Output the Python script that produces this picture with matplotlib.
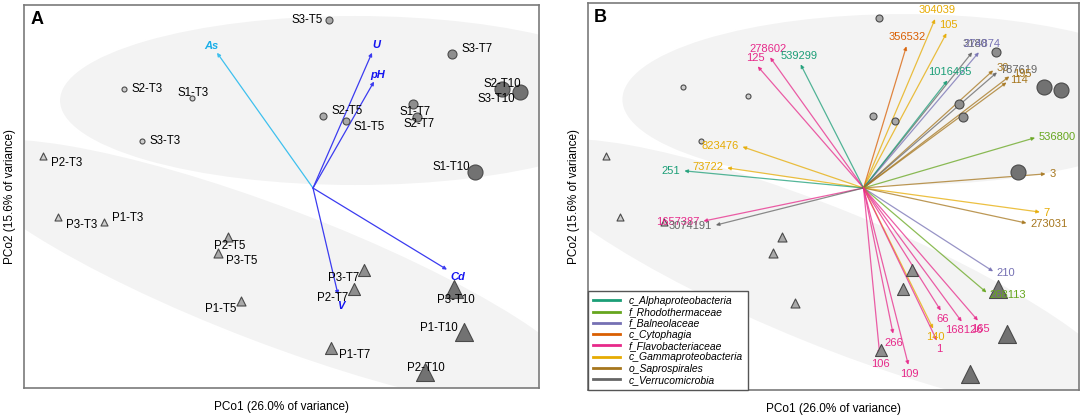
import matplotlib
matplotlib.use('Agg')
import matplotlib.pyplot as plt
from matplotlib.patches import Ellipse
from matplotlib.lines import Line2D
import numpy as np

plt.rcParams['font.family'] = ['Liberation Sans', 'DejaVu Sans']

# ---------------- data ----------------
sample_names = ['S2-T3', 'S1-T3', 'S3-T3', 'S3-T5', 'S2-T5', 'S1-T5', 'S3-T7', 'S1-T7',
                'S2-T7', 'S2-T10', 'S3-T10', 'S1-T10', 'P2-T3', 'P3-T3', 'P1-T3', 'P2-T5',
                'P3-T5', 'P1-T5', 'P3-T7', 'P2-T7', 'P1-T7', 'P3-T10', 'P1-T10', 'P2-T10']
pco1 = [-1.89, -1.21, -1.71, 0.16, 0.10, 0.33, 1.39, 1.00, 1.04, 1.89, 2.07, 1.62,
        -2.70, -2.55, -2.09, -0.85, -0.95, -0.72, 0.51, 0.41, 0.18, 1.41, 1.51, 1.12]
pco2 = [1.00, 0.91, 0.47, 1.69, 0.72, 0.67, 1.35, 0.84, 0.71, 1.00, 0.97, 0.16,
        0.32, -0.29, -0.34, -0.49, -0.65, -1.14, -0.82, -1.01, -1.61, -1.01, -1.45, -1.85]

env_names = ['As', 'U', 'pH', 'V', 'Cd']
env_x = [-0.96, 0.59, 0.61, 0.25, 1.34]
env_y = [1.36, 1.36, 1.07, -1.07, -0.82]

groups = ['c_Alphaproteobacteria', 'f_Rhodothermaceae', 'f_Balneolaceae', 'c_Cytophagia',
          'f_Flavobacteriaceae', 'c_Gammaproteobacteria', 'o_Saprospirales', 'c_Verrucomicrobia']

otu_names = ['278602', '125', '539299', '823476', '73722', '251', '1657387', '3074191',
             '304039', '105', '356532', '3180', '274874', '1016465', '30', '787619', '195',
             '114', '536800', '3', '7', '273031', '210', '268113', '66', '168126', '165',
             '140', '1', '266', '106', '109']
otu_x = [-0.98, -1.11, -0.66, -1.27, -1.43, -1.88, -1.68, -1.55,
         0.75, 0.87, 0.45, 1.14, 1.21, 0.88, 1.36, 1.40, 1.53,
         1.50, 1.80, 1.91, 1.85, 1.71, 1.36, 1.29, 0.81, 1.03, 1.20,
         0.73, 0.77, 0.31, 0.17, 0.47]
otu_y = [1.30, 1.21, 1.23, 0.41, 0.20, 0.17, -0.33, -0.37,
         1.68, 1.54, 1.41, 1.35, 1.35, 1.07, 1.17, 1.15, 1.11,
         1.05, 0.50, 0.14, -0.24, -0.35, -0.83, -1.04, -1.22, -1.33, -1.32,
         -1.40, -1.52, -1.45, -1.66, -1.76]
otu_group = ['f_Flavobacteriaceae', 'f_Flavobacteriaceae', 'c_Alphaproteobacteria',
             'c_Gammaproteobacteria', 'c_Gammaproteobacteria', 'c_Alphaproteobacteria',
             'f_Flavobacteriaceae', 'c_Verrucomicrobia',
             'c_Gammaproteobacteria', 'c_Gammaproteobacteria', 'c_Cytophagia',
             'c_Verrucomicrobia', 'f_Balneolaceae', 'c_Alphaproteobacteria',
             'o_Saprospirales', 'c_Verrucomicrobia', 'o_Saprospirales',
             'o_Saprospirales', 'f_Rhodothermaceae', 'o_Saprospirales',
             'c_Gammaproteobacteria', 'o_Saprospirales', 'f_Balneolaceae',
             'f_Rhodothermaceae', 'f_Flavobacteriaceae', 'f_Flavobacteriaceae',
             'f_Flavobacteriaceae', 'c_Gammaproteobacteria', 'f_Flavobacteriaceae',
             'f_Flavobacteriaceae', 'f_Flavobacteriaceae', 'f_Flavobacteriaceae']

x_label = 'PCo1 (26.0% of variance)'
y_label = 'PCo2 (15.6% of variance)'

# ---------------- styles ----------------
group_colors = dict(zip(groups, ['#1b9e77', '#66a61e', '#7570b3', '#d95f02',
                                 '#e7298a', '#e6ab02', '#a6761d', '#666666']))
time_fill = {'T3': '#cdcdcd', 'T5': '#a9a9a9', 'T7': '#8e8e8e', 'T10': '#727272'}
circle_px = {'T3': 5, 'T5': 7, 'T7': 9, 'T10': 15}
tri_px = {'T3': 7, 'T5': 9, 'T7': 12, 'T10': 18}

# label offsets (pixels) and alignment for sample labels in panel A
label_style = {
    'S2-T3': (8, 0, 'left'), 'S1-T3': (-14, 5, 'left'), 'S3-T3': (8, 0, 'left'),
    'P2-T3': (8, -7, 'left'), 'S3-T5': (-6, 0, 'right'), 'S2-T5': (9, 5, 'left'),
    'S1-T5': (8, -6, 'left'), 'S3-T7': (9, 5, 'left'), 'S1-T7': (-13, -8, 'left'),
    'S2-T7': (-14, -7, 'left'), 'S2-T10': (-18, 5, 'left'), 'S3-T10': (-42, -7, 'left'),
    'S1-T10': (-5, 5, 'right'), 'P3-T3': (8, -8, 'left'), 'P1-T3': (8, 4, 'left'),
    'P2-T5': (-14, -9, 'left'), 'P3-T5': (8, -8, 'left'), 'P1-T5': (-5, -8, 'right'),
    'P3-T7': (-5, -8, 'right'), 'P2-T7': (-6, -9, 'right'), 'P1-T7': (8, -7, 'left'),
    'P3-T10': (-17, -11, 'left'), 'P1-T10': (-6, 4, 'right'), 'P2-T10': (-18, 4, 'left'),
}
env_style = {'As': ('#3ec0ee', (-6, 7)), 'U': ('#3b3bf0', (4, 8)), 'pH': ('#3b3bf0', (4, 7)),
             'V': ('#3b3bf0', (3, -12)), 'Cd': ('#3b3bf0', (11, -7))}
env_text = {'As': '#1aaee8', 'U': '#1414f0', 'pH': '#1414f0', 'V': '#1414f0', 'Cd': '#1414f0'}

XLIM = (-2.89, 2.26)
YLIM = (-2.01, 1.84)

fig = plt.figure(figsize=(10.84, 4.15), dpi=100)
axA = fig.add_axes([24 / 1084, 1 - 388 / 415, (539 - 24) / 1084, (388 - 5) / 415])
axB = fig.add_axes([588 / 1084, 1 - 390 / 415, (1079 - 588) / 1084, (390 - 3) / 415])


def base(ax):
    ax.set_xlim(*XLIM)
    ax.set_ylim(*YLIM)
    ax.set_xticks([])
    ax.set_yticks([])
    for s in ax.spines.values():
        s.set_color('#7a7a7a')
        s.set_linewidth(1.2)
    ax.add_patch(Ellipse((0.42, 0.88), 5.92, 1.72, angle=0, facecolor='#f3f3f3',
                         edgecolor='white', lw=1.5, zorder=0))
    ax.add_patch(Ellipse((-0.39, -0.88), 6.8, 1.38, angle=-21, facecolor='#f3f3f3',
                         edgecolor='white', lw=1.5, zorder=0))
    ax.set_xlabel(x_label, fontsize=8.5, labelpad=9)
    ax.set_ylabel(y_label, fontsize=8.5, labelpad=6)
    for name, x, y in zip(sample_names, pco1, pco2):
        t = name.split('-')[1]
        if name.startswith('S'):
            m, d = 'o', circle_px[t]
        else:
            m, d = '^', tri_px[t]
        ax.scatter([x], [y], marker=m, s=(d * 0.72) ** 2, facecolor=time_fill[t],
                   edgecolor='#4a4a4a', linewidth=0.8, zorder=3)


base(axA)
base(axB)

# ---- panel A ----
axA.text(0.012, 0.985, 'A', transform=axA.transAxes, ha='left', va='top',
         fontsize=13, fontweight='bold')
for name, x, y in zip(sample_names, pco1, pco2):
    dx, dy, ha = label_style[name]
    axA.annotate(name, (x, y), xytext=(dx, dy), textcoords='offset pixels',
                 ha=ha, va='center', fontsize=8.3, zorder=4)
for name, x, y in zip(env_names, env_x, env_y):
    c, (dx, dy) = env_style[name]
    axA.annotate('', xy=(x, y), xytext=(0, 0),
                 arrowprops=dict(arrowstyle='-|>', color=c, lw=0.9, mutation_scale=5,
                                 shrinkA=0, shrinkB=0), zorder=2)
    axA.annotate(name, (x, y), xytext=(dx, dy), textcoords='offset pixels',
                 ha='center', va='center', fontsize=8, fontweight='bold',
                 fontstyle='italic', color=env_text[name], zorder=4)

# ---- panel B ----
axB.text(0.012, 0.985, 'B', transform=axB.transAxes, ha='left', va='top',
         fontsize=13, fontweight='bold')
for name, x, y, g in zip(otu_names, otu_x, otu_y, otu_group):
    c = group_colors[g]
    axB.annotate('', xy=(x, y), xytext=(0, 0),
                 arrowprops=dict(arrowstyle='-|>', color=c, lw=0.9, alpha=0.75,
                                 mutation_scale=5, shrinkA=0, shrinkB=0), zorder=2)
    ang = np.arctan2(y, x)
    cx, sy = np.cos(ang), np.sin(ang)
    ha = 'left' if cx > 0.7 else ('right' if cx < -0.7 else 'center')
    va = 'bottom' if sy > 0.7 else ('top' if sy < -0.7 else 'center')
    axB.annotate(name, (x, y), xytext=(4 * cx, 4 * sy), textcoords='offset pixels',
                 ha=ha, va=va, fontsize=8, color=c, zorder=4)

handles = [Line2D([], [], color=group_colors[g], lw=2) for g in groups]
leg = axB.legend(handles, groups, loc='lower left', bbox_to_anchor=(0, 0),
                 borderaxespad=0, fancybox=False, edgecolor='#555555',
                 prop={'size': 7.5, 'style': 'italic'}, handlelength=2.6,
                 labelspacing=0.12, borderpad=0.5, framealpha=1)
leg.get_frame().set_linewidth(1.0)
leg.set_zorder(5)

fig.savefig('out.png', dpi=100)
